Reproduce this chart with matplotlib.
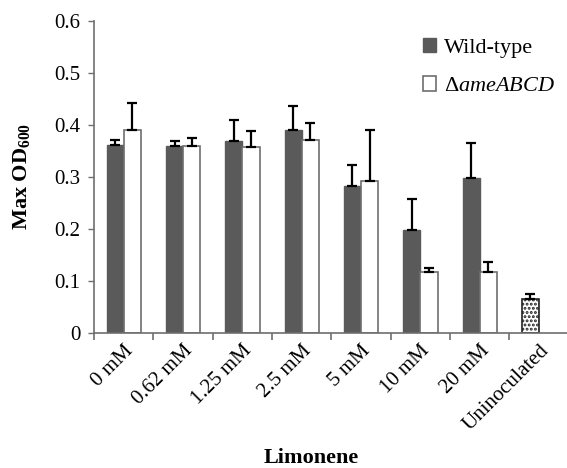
import numpy as np
import matplotlib.pyplot as plt
from matplotlib.patches import Patch

plt.rcParams['font.family'] = ['Liberation Serif', 'DejaVu Serif']
plt.rcParams['mathtext.fontset'] = 'custom'
plt.rcParams['mathtext.rm'] = 'Liberation Serif'
plt.rcParams['mathtext.it'] = 'Liberation Serif:italic'
plt.rcParams['mathtext.bf'] = 'Liberation Serif:bold'

categories = ['0 mM', '0.62 mM', '1.25 mM', '2.5 mM', '5 mM', '10 mM', '20 mM', 'Uninoculated']
wt = [0.361, 0.359, 0.369, 0.390, 0.282, 0.197, 0.297]
wt_err = [0.010, 0.010, 0.041, 0.047, 0.040, 0.060, 0.069]
mut = [0.391, 0.360, 0.357, 0.371, 0.293, 0.117, 0.118]
mut_err = [0.051, 0.015, 0.031, 0.033, 0.098, 0.008, 0.019]
uninoc = 0.065
uninoc_err = 0.010

gray = '#5a5a5a'
edge = '#6e6e6e'
w = 0.29

fig = plt.figure(figsize=(5.67, 4.68), dpi=100)
ax = fig.add_axes([0.166, 0.2885, 0.837, 0.667])

x = np.arange(len(wt))
ekw = dict(elinewidth=1.6, capsize=3.6, capthick=1.6, ecolor='black')
ax.bar(x - w / 2, wt, w, color=gray, edgecolor=gray, linewidth=1,
       yerr=[np.zeros(len(wt)), wt_err], error_kw=ekw, zorder=2)
ax.bar(x + w / 2, mut, w, color='white', edgecolor=edge, linewidth=1.2,
       yerr=[np.zeros(len(mut)), mut_err], error_kw=ekw, zorder=2)
plt.rcParams['hatch.linewidth'] = 1.4
ax.bar([7 - w / 2], [uninoc], w, color='white', edgecolor='#222222', hatch='....',
       linewidth=1.2, yerr=[[0], [uninoc_err]], error_kw=ekw, zorder=2)

ax.set_xlim(-0.5, 7.5)
ax.set_ylim(0, 0.6)
ax.set_yticks(np.arange(0, 0.61, 0.1))
ax.set_yticklabels(['0', '0.1', '0.2', '0.3', '0.4', '0.5', '0.6'], fontsize=15)
ax.set_xticks(np.arange(-0.5, 7.5, 1))
ax.set_xticklabels([])
ax.set_xticks(np.arange(8), minor=True)
ax.set_xticklabels(categories, minor=True, rotation=45, ha='right',
                   rotation_mode='anchor', fontsize=15)
ax.tick_params(axis='x', which='minor', length=0, pad=6)
ax.tick_params(axis='x', which='major', length=5, color=edge, width=1.2)
ax.tick_params(axis='y', length=4, color=edge, width=1, pad=6)

for s in ['top', 'right']:
    ax.spines[s].set_visible(False)
for s in ['left', 'bottom']:
    ax.spines[s].set_color(edge)
    ax.spines[s].set_linewidth(1.2)

ax.set_ylabel(r'Max OD$_{\mathbf{600}}$', fontsize=16, fontweight='bold')
ax.yaxis.set_label_coords(-0.13, 0.5)
ax.set_xlabel('Limonene', fontsize=16, fontweight='bold')
ax.xaxis.set_label_coords(0.457, -0.37)

handles = [Patch(facecolor=gray, edgecolor=gray),
           Patch(facecolor='white', edgecolor=edge, linewidth=1.2)]
labels = ['Wild-type', r'$\Delta$$\mathit{ameABCD}$']
ax.legend(handles, labels, loc='upper left', bbox_to_anchor=(0.65, 1.01),
          frameon=False, fontsize=16, handlelength=0.6, handleheight=0.6,
          handletextpad=0.35, labelspacing=0.85)

fig.savefig('out.png', dpi=100)
